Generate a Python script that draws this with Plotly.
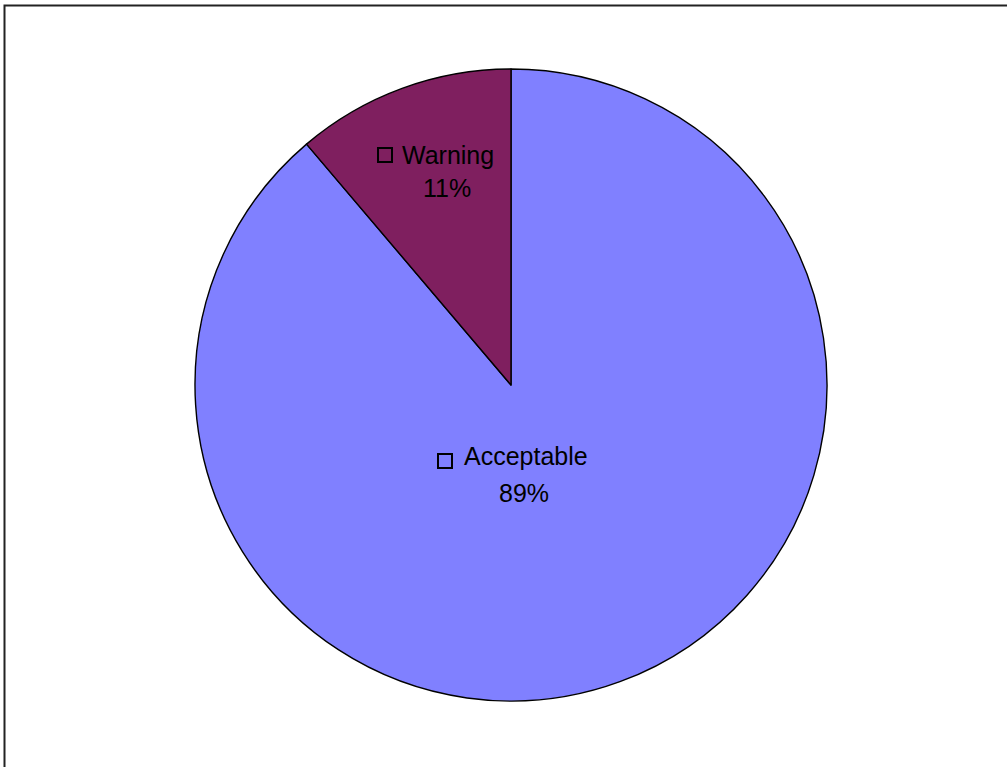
import plotly.graph_objects as go

labels = ["Acceptable", "Warning"]
values = [88.8, 11.2]
colors = ["#8080FF", "#7F1F5F"]

total = sum(values)
pct = [f"{round(v / total * 100):.0f}%" for v in values]

W, H = 1007, 767


def px(x, y):
    return x / W, 1 - y / H


fig = go.Figure(go.Pie(
    labels=labels,
    values=values,
    sort=False,
    direction="clockwise",
    rotation=0,
    marker=dict(colors=colors, line=dict(color="black", width=1.4)),
    textinfo="none",
    hoverinfo="label+percent",
    showlegend=False,
    domain=dict(x=[0.1936, 0.8213], y=[0.086, 0.910]),
))

# label layout in pixels: (word center x, word cap-center y, pct center x, pct center y, square x0, square y0)
label_px = {
    "Acceptable": (526, 456, 524, 492.5, 438, 454),
    "Warning": (447.5, 154.5, 447, 187.5, 378, 148),
}
font = dict(family="Liberation Sans, Arial, sans-serif", size=25, color="black")
for lab, p in zip(labels, pct):
    wx, wy, qx, qy, sx, sy = label_px[lab]
    x, y = px(wx, wy)
    fig.add_annotation(x=x, y=y, xref="paper", yref="paper", text=lab,
                       showarrow=False, font=font, xanchor="center", yanchor="middle")
    x, y = px(qx, qy)
    fig.add_annotation(x=x, y=y, xref="paper", yref="paper", text=p,
                       showarrow=False, font=font, xanchor="center", yanchor="middle")
    x0, y0 = px(sx, sy)
    x1, y1 = px(sx + 14, sy + 14)
    fig.add_shape(type="rect", xref="paper", yref="paper",
                  x0=x0, x1=x1, y0=y1, y1=y0,
                  line=dict(color="black", width=2), fillcolor="rgba(0,0,0,0)")

fig.add_shape(
    type="rect", xref="paper", yref="paper",
    x0=4.5 / W, x1=1.05, y0=-0.05, y1=1 - 5.5 / H,
    line=dict(color="#222222", width=2),
)

fig.update_layout(
    width=W, height=H,
    margin=dict(l=0, r=0, t=0, b=0),
    paper_bgcolor="white",
    plot_bgcolor="white",
)

fig.write_html("out.html", config={"displayModeBar": False},
               post_script="document.body.style.margin='0';")
